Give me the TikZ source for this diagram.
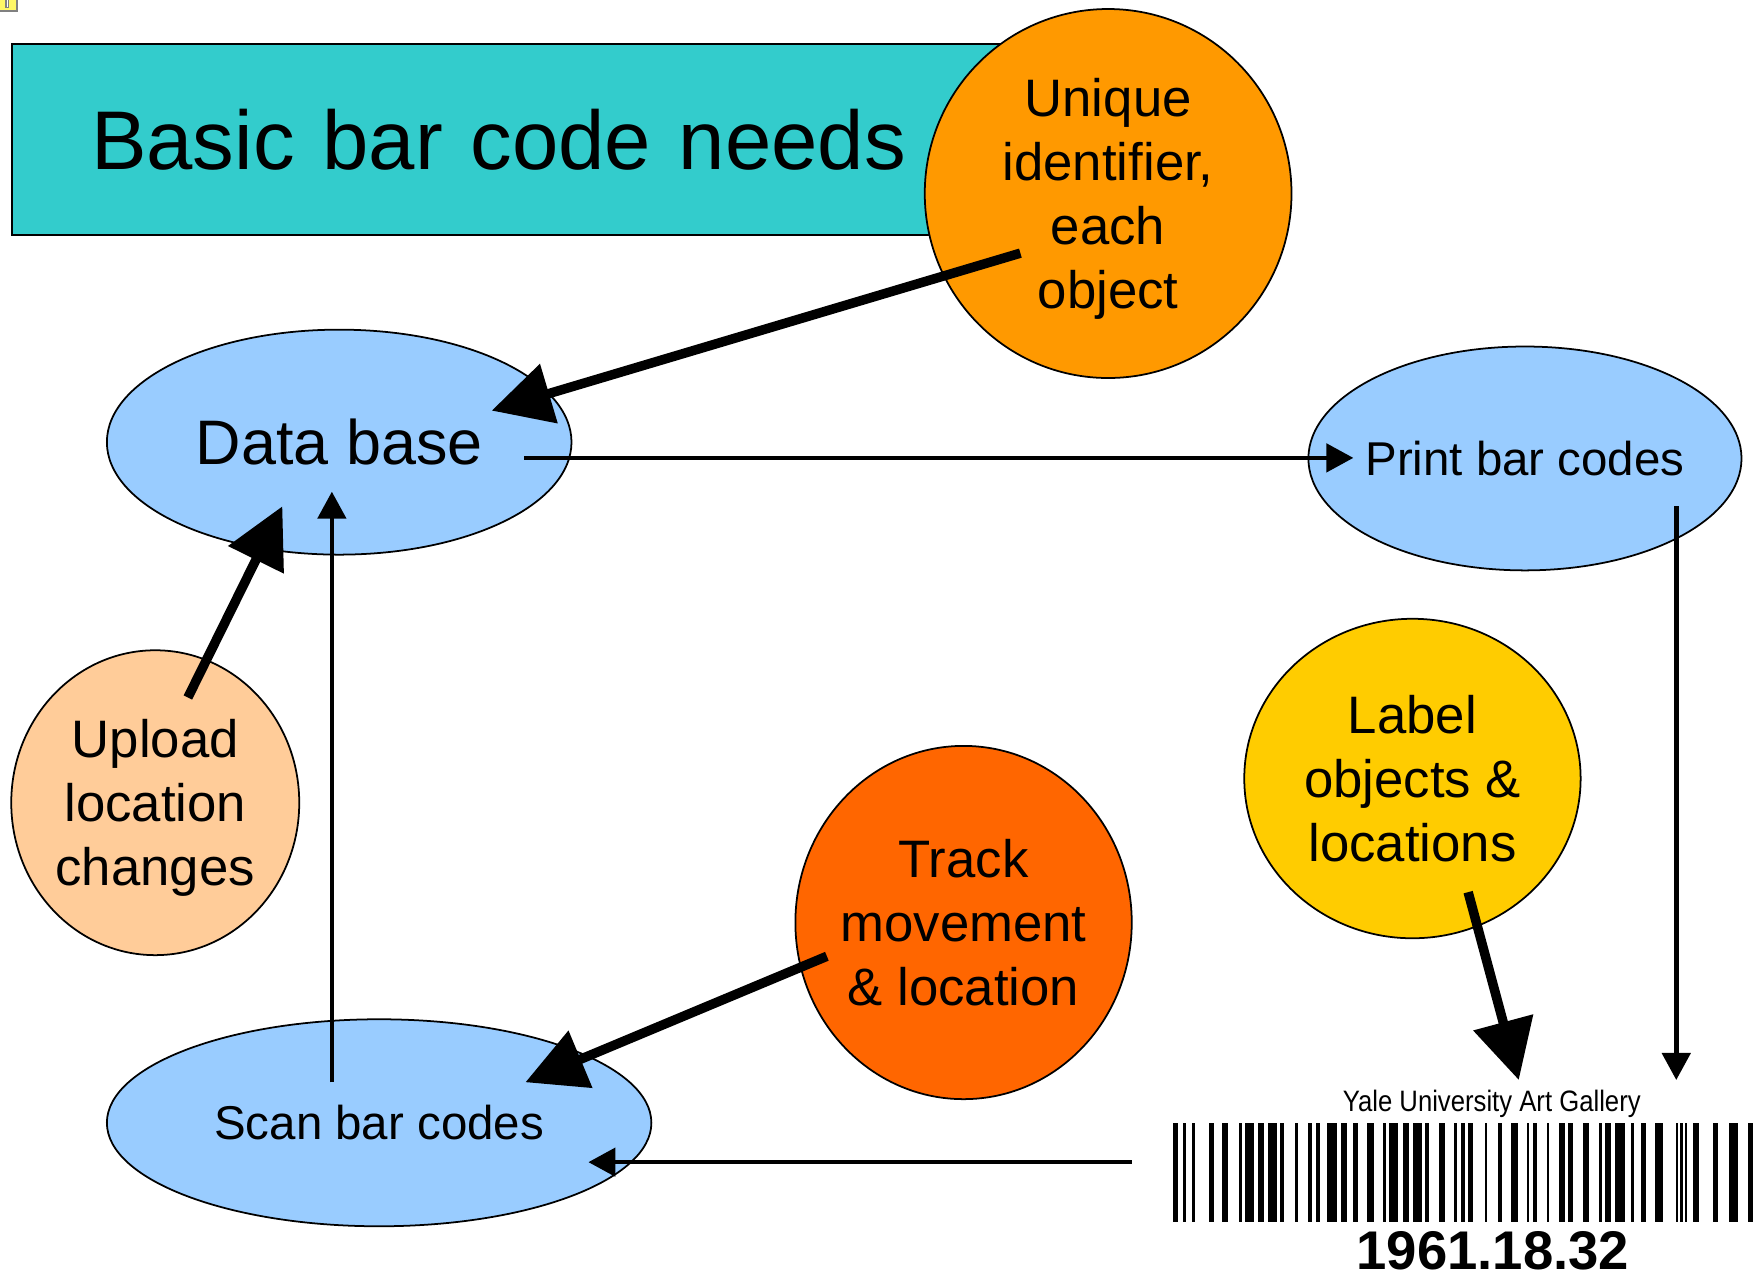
\documentclass[tikz,border=0pt]{standalone}
\usepackage{fontspec}
\usepackage{graphicx}
\setmainfont{Liberation Sans}
\usetikzlibrary{shapes.geometric,arrows.meta}

\definecolor{titlecyan}{HTML}{33CCCC}
\definecolor{uidorange}{HTML}{FF9900}
\definecolor{dbblue}{HTML}{99CCFF}
\definecolor{uploadpeach}{HTML}{FFCC99}
\definecolor{trackorange}{HTML}{FF6600}
\definecolor{labelgold}{HTML}{FFCC00}

\newlength\pxu
\setlength\pxu{0.1125mm}

\tikzset{
  blob/.style={ellipse, draw=black, line width=0.5pt, inner sep=-14pt, align=center,
    text depth=0pt, font=\fontsize{15}{18.25}\selectfont},
  fatarrow/.style={line width=2.7pt, -{Triangle[length=17pt,width=17pt]}},
  thinarrow/.style={line width=1.3pt, -{Triangle[length=7.7pt,width=8pt]}}
}

\begin{document}
\begin{tikzpicture}[x=\pxu,y=-\pxu]
        \useasboundingbox (0,0) rectangle (1566.2,1135.1);
        %% little marker
        \filldraw[fill=yellow!60, draw=gray, line width=0.6pt] (-3,-3) rectangle (15,10);
        \filldraw[fill=white, draw=gray, line width=0.4pt] (5.5,-3) rectangle (7.5,6.5);
        %% Title
        \node[draw=black, line width=0.6pt, fill=titlecyan, anchor=north west,
              minimum width=920\pxu, minimum height=170\pxu, inner xsep=70\pxu,
              text width=780\pxu, align=left, font=\fontsize{23.7}{28}\selectfont]
              (title) at (10,38) {Basic bar code needs};
        %% Bubbles
        \node[blob, fill=uidorange, minimum width=326\pxu, minimum height=328\pxu]
              (uid) at (985,172) {Unique\\identifier,\\each\\object};
        \node[blob, fill=dbblue, minimum width=413\pxu, minimum height=200\pxu,
              font=\fontsize{17.9}{21}\selectfont] (db) at (301.5,393) {Data base};
        \node[blob, fill=dbblue, minimum width=385\pxu, minimum height=199\pxu,
              font=\fontsize{13.5}{16}\selectfont] (print) at (1355.5,407.5) {Print bar codes};
        \node[blob, fill=uploadpeach, minimum width=256\pxu, minimum height=271\pxu]
              (upload) at (138,713.5) {Upload\\location\\changes};
        \node[blob, fill=trackorange, minimum width=299\pxu, minimum height=314\pxu]
              (track) at (856.5,820) {Track\\movement\\\& location};
        \node[blob, fill=labelgold, minimum width=299\pxu, minimum height=284\pxu]
              (label) at (1255.5,692) {Label\\objects \&\\locations};
        \node[blob, fill=dbblue, minimum width=484\pxu, minimum height=184\pxu,
              font=\fontsize{13.5}{16}\selectfont] (scan) at (337,998) {Scan bar codes};
        %% Bar code
        \node[font=\fontsize{8.4}{9}\selectfont] (yale) at (1326,981)
              {\scalebox{0.87}[1]{Yale University Art Gallery}};
        \begin{scope}[scale=0.8889]
          \foreach \l/\r in {1173/1178, 1183/1186, 1192/1195, 1209/1214, 1222/1228,
              1239/1242, 1245/1254, 1258/1264, 1268/1277, 1280/1284, 1295/1298,
              1308/1312, 1316/1320, 1327/1337, 1341/1347, 1353/1358, 1367/1374,
              1383/1386, 1389/1398, 1403/1409, 1413/1422, 1425/1429, 1439/1445,
              1454/1457, 1461/1465, 1468/1473, 1485/1487, 1498/1502, 1511/1518,
              1527/1529, 1533/1537, 1547/1549, 1559/1565, 1568/1573, 1583/1589,
              1599/1602, 1605/1611, 1615/1625, 1631/1634, 1641/1646, 1655/1663,
              1676/1678, 1680/1683, 1685/1687, 1693/1699, 1713/1718, 1729/1738,
              1748/1753}
            \fill (\l,1123) rectangle (\r,1222);
        \end{scope}
        \node[font=\bfseries\fontsize{15.5}{16}\selectfont] (objnum) at (1327,1112) {1961.18.32};
        %% Arrow ends
        \coordinate (uidA) at (907,225);
        \coordinate (dbA) at (437,365);
        \coordinate (uploadA) at (167,620);
        \coordinate (dbB) at (251,450);
        \coordinate (trackA) at (735,850);
        \coordinate (scanA) at (467,962);
        \coordinate (labelA) at (1305,793);
        \coordinate (codeA) at (1350,960);
        \coordinate (dbC) at (466,407);
        \coordinate (printA) at (1203,407);
        \coordinate (printB) at (1490,450);
        \coordinate (codeB) at (1490,960);
        \coordinate (codeC) at (1006,1033);
        \coordinate (scanB) at (523,1033);
        \coordinate (scanC) at (295,962);
        \coordinate (dbD) at (295,437);
        %% Arrows
        \draw[fatarrow] (uidA) -- (dbA);
        \draw[fatarrow] (uploadA) -- (dbB);
        \draw[fatarrow] (trackA) -- (scanA);
        \draw[fatarrow] (labelA) -- (codeA);
        \draw[thinarrow] (dbC) -- (printA);
        \draw[thinarrow] (printB) -- (codeB);
        \draw[thinarrow] (codeC) -- (scanB);
        \draw[thinarrow] (scanC) -- (dbD);
\end{tikzpicture}
\end{document}
